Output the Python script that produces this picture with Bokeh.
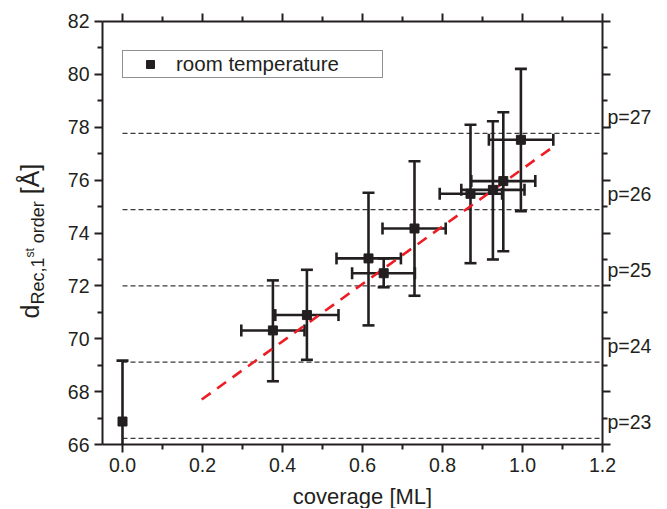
import math
from bokeh.plotting import figure
from bokeh.core.properties import value
from bokeh.models import (ColumnDataSource, LinearAxis, FixedTicker, PrintfTickFormatter,
                          Range1d, Label, LabelSet, Legend, LegendItem)
from bokeh.embed import file_html
from bokeh.resources import INLINE

# ---- data ----
coverage = [0.0, 0.376, 0.461, 0.615, 0.653, 0.730, 0.870, 0.926, 0.952, 0.996]
d_rec = [66.88, 70.32, 70.90, 73.04, 72.48, 74.17, 75.48, 75.63, 75.96, 77.52]
d_low = [64.58, 68.40, 69.21, 70.51, 71.95, 71.63, 72.86, 73.00, 73.31, 74.82]
d_high = [69.18, 72.21, 72.61, 75.52, 73.04, 76.71, 78.09, 78.22, 78.56, 80.20]
cov_low = [0.0, 0.297, 0.382, 0.535, 0.574, 0.650, 0.793, 0.847, 0.872, 0.916]
cov_high = [0.0, 0.455, 0.540, 0.696, 0.731, 0.808, 0.949, 1.005, 1.032, 1.077]

fit_cov = [0.198, 1.078]
fit_d = [67.71, 77.27]

p_values = [23, 24, 25, 26, 27]
p_d = [66.24, 69.12, 72.00, 74.88, 77.76]
p_labels = ["p=%d" % v for v in p_values]

x_min, x_max = -0.05, 1.2
y_min, y_max = 66.0, 82.0
x_ticks = [0.0, 0.2, 0.4, 0.6, 0.8, 1.0, 1.2]
x_minor = [0.1, 0.3, 0.5, 0.7, 0.9, 1.1]
y_ticks = [66, 68, 70, 72, 74, 76, 78, 80, 82]
y_minor = [67, 69, 71, 73, 75, 77, 79, 81]

series_name = "room temperature"
x_title = "coverage [ML]"

C = "#231f20"
FONT = "Liberation Sans"

# ---- layout: the frame covers the whole canvas; axes are pinned to the data box ----
W, H = 666, 508
box_l, box_r, box_t, box_b = 102.0, 602.0, 20.7, 444.3   # pixel box of the axes
sx = (box_r - box_l) / (x_max - x_min)
sy = (box_b - box_t) / (y_max - y_min)
xr = Range1d(x_min - box_l / sx, x_max + (W - box_r) / sx)
yr = Range1d(y_min - (H - box_b) / sy, y_max + box_t / sy)


def px_x(px):
    return xr.start + px / sx


def px_y(py):
    return yr.end - py / sy


p = figure(width=W, height=H, x_range=xr, y_range=yr,
           output_backend="svg", toolbar_location=None,
           x_axis_location=None, y_axis_location=None,
           min_border=0, min_border_left=0, min_border_right=0,
           min_border_top=0, min_border_bottom=0)
p.xgrid.visible = False
p.ygrid.visible = False
p.outline_line_color = None
p.background_fill_color = "white"
p.border_fill_color = "white"


def make_axis(loc, ticks, minor, bounds, show_labels, fmt=None):
    ax = LinearAxis(fixed_location=loc, bounds=bounds,
                    ticker=FixedTicker(ticks=ticks, minor_ticks=minor))
    if fmt is not None:
        ax.formatter = fmt
    ax.axis_line_width = 2
    ax.axis_line_color = C
    ax.major_tick_line_width = 2
    ax.minor_tick_line_width = 2
    ax.major_tick_line_color = C
    ax.minor_tick_line_color = C
    ax.major_tick_out = 8
    ax.major_tick_in = 0
    ax.minor_tick_out = 5
    ax.minor_tick_in = 0
    ax.major_label_text_font = FONT
    if show_labels:
        ax.major_label_text_color = C
        ax.major_label_text_font_size = "19.5px"
        ax.major_label_standoff = 5
    else:
        ax.major_label_text_color = None
        ax.major_label_text_alpha = 0
        ax.major_label_standoff = 0
    return ax


p.add_layout(make_axis(y_min, x_ticks, x_minor, (x_min, x_max), True,
                       PrintfTickFormatter(format="%.1f")), "below")
p.add_layout(make_axis(y_max, x_ticks, x_minor, (x_min, x_max), False), "above")
p.add_layout(make_axis(x_min, y_ticks, y_minor, (y_min, y_max), True), "left")
p.add_layout(make_axis(x_max, y_ticks, y_minor, (y_min, y_max), False), "right")

# horizontal reference lines p=23..27
p.segment(x0=0.0, x1=x_max, y0=p_d, y1=p_d, line_dash="5 3", line_color="#3a3a3a", line_width=1.3)

# error bars (clipped to the axis box)
bar_low = [max(v, y_min) for v in d_low]
bar_high = [min(v, y_max) for v in d_high]
p.segment(x0=coverage, y0=bar_low, x1=coverage, y1=bar_high, line_width=2.6, line_color=C)
p.segment(x0=cov_low, y0=d_rec, x1=cov_high, y1=d_rec, line_width=2.6, line_color=C)
cap_lo_x = [x for x, v in zip(coverage, d_low) if v >= y_min]
cap_lo_y = [v for v in d_low if v >= y_min]
cap_hi_x = [x for x, v in zip(coverage, d_high) if v <= y_max]
cap_hi_y = [v for v in d_high if v <= y_max]
p.scatter(cap_lo_x, cap_lo_y, marker="dash", size=12, line_width=2.6, line_color=C)
p.scatter(cap_hi_x, cap_hi_y, marker="dash", size=12, line_width=2.6, line_color=C)
xs_l = [a for a, b in zip(cov_low, cov_high) if b > a]
xs_h = [b for a, b in zip(cov_low, cov_high) if b > a]
ys_x = [y for a, b, y in zip(cov_low, cov_high, d_rec) if b > a]
p.scatter(xs_l, ys_x, marker="dash", angle=math.pi / 2, size=12, line_width=2.6, line_color=C)
p.scatter(xs_h, ys_x, marker="dash", angle=math.pi / 2, size=12, line_width=2.6, line_color=C)

# linear fit
p.line(fit_cov, fit_d, line_color="#ed1c24", line_width=2.6, line_dash="11 8")

sq = p.scatter(coverage, d_rec, marker="square", size=9, fill_color=C, line_color=C)

legend = Legend(items=[LegendItem(label=series_name, renderers=[sq])],
                location=(122, H - 78))
legend.border_line_color = C
legend.border_line_width = 1.3
legend.padding = 1
legend.margin = 0
legend.glyph_width = 52
legend.glyph_height = 20
legend.label_height = 20
legend.label_standoff = 0
legend.label_width = 205
legend.label_text_font = FONT
legend.label_text_font_size = "20.5px"
legend.label_text_color = C
legend.background_fill_alpha = 1
p.add_layout(legend)

# p labels on the right
src_p = ColumnDataSource(dict(x=[x_max] * len(p_d), y=p_d, t=p_labels))
p.add_layout(LabelSet(x="x", y="y", text="t", source=src_p, x_offset=5, y_offset=9,
                      text_font=value(FONT), text_font_size=value("19.5px"),
                      text_baseline=value("alphabetic"), text_color=C))

# x-axis title
p.add_layout(Label(x=(x_min + x_max) / 2 + 0.025, y=px_y(496), text=x_title, text_align="center",
                   text_baseline="alphabetic", text_font=FONT, text_font_size="22px",
                   text_color=C))

# y-axis title with sub/superscript pieces (rotated); offsets run along the text
bx, by = px_x(29.5), px_y(318)
pieces = [("d", "25px", 0, 0.0),
          ("Rec,1", "18px", 8, 13.9),
          ("st", "12px", 0, 60.9),
          ("order", "18px", 8, 75.2),
          ("[\u00c5]", "25px", 0, 124.2)]
for txt, fs, xo, yo in pieces:
    p.add_layout(Label(x=bx, y=by, text=txt, angle=math.pi / 2, x_offset=xo, y_offset=yo,
                       text_font=FONT, text_font_size=fs, text_baseline="alphabetic",
                       text_color=C))

open("out.html", "w").write(file_html(p, INLINE))
